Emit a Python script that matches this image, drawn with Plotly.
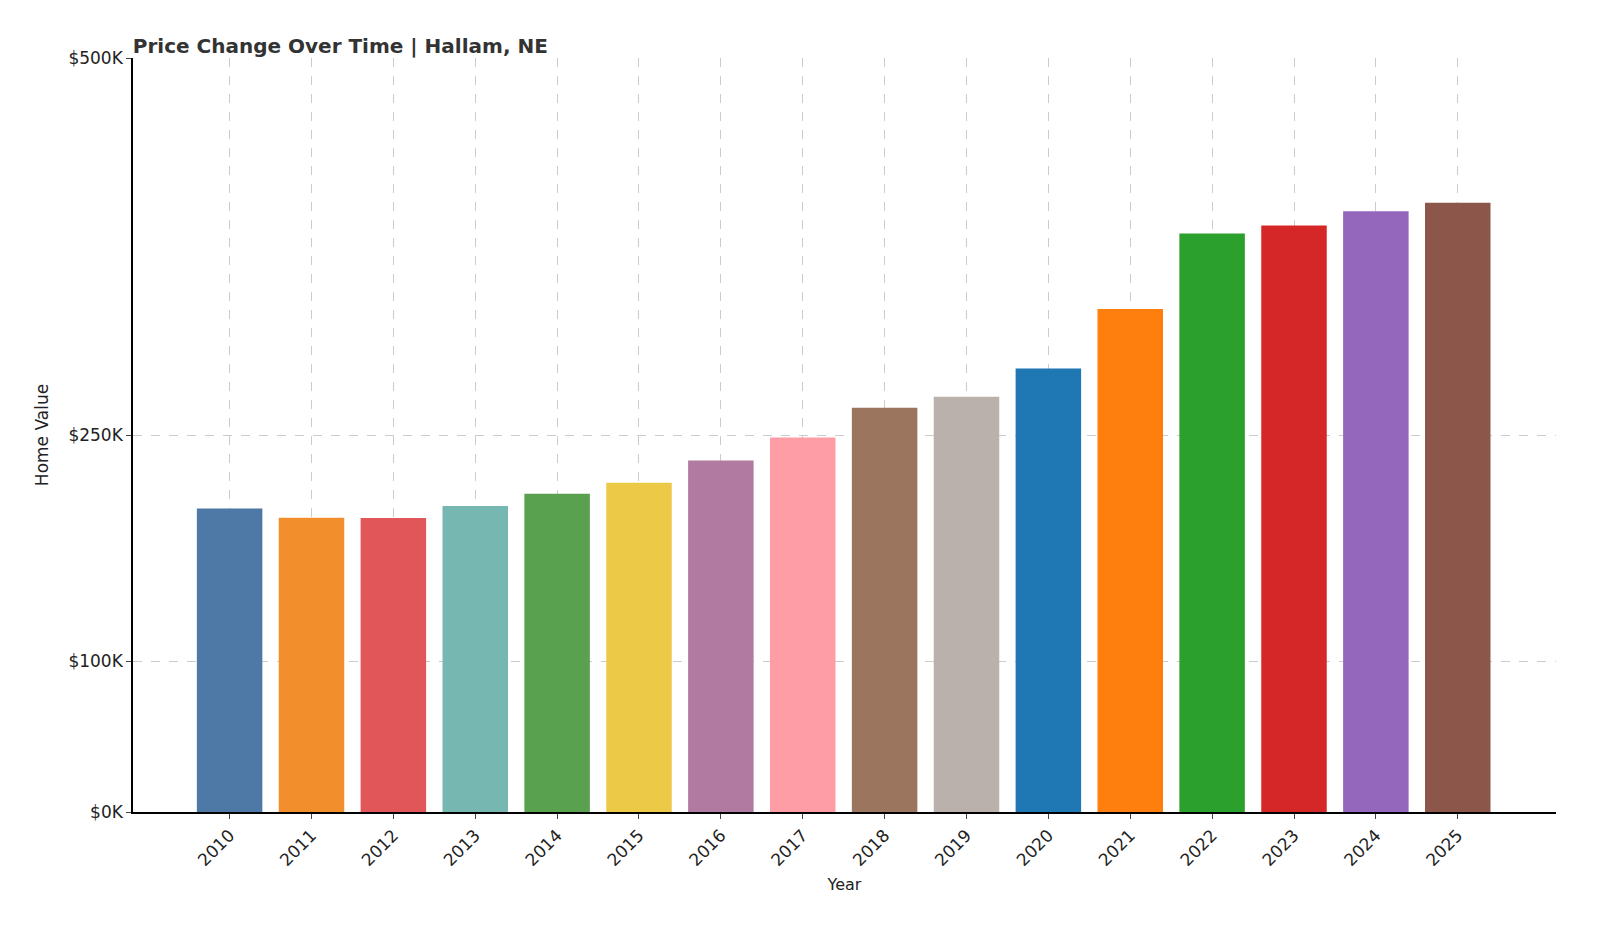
import plotly.graph_objects as go

years = [str(y) for y in range(2010, 2026)]
values = [201316, 195184, 195042, 202955, 211038, 218347, 233020, 248275,
          268052, 275359, 294177, 333537, 383558, 388873, 398419, 404057]
changes = ["", "-3.05%", "-0.07%", "+4.06%", "+3.98%", "+3.46%", "+6.72%", "+6.55%",
           "+7.97%", "+2.73%", "+6.83%", "+13.38%", "+15.00%", "+1.39%", "+2.45%", "+1.42%"]
colors = ["#4e79a7", "#f28e2b", "#e15759", "#76b7b2", "#59a14f", "#edc948", "#b07aa1", "#ff9da7",
          "#9c755f", "#bab0ac", "#1f77b4", "#ff7f0e", "#2ca02c", "#d62728", "#9467bd", "#8c564b"]
tick_vals = [0, 100000, 250000, 500000]
tick_text = ["$0K", "$100K", "$250K", "$500K"]

fig = go.Figure(go.Bar(x=years, y=values, marker=dict(color=colors, line_width=0),
                       hoverinfo="skip"))

for yr, v, c in zip(years, values, changes):
    txt = f"${v:,}" + (f"<br>({c})" if c else "")
    fig.add_annotation(x=yr, y=v, text=txt, textangle=-90, showarrow=False,
                       yanchor="bottom", xanchor="center", yshift=4,
                       font=dict(size=11, color="#333333"), align="left")

grid = dict(showgrid=True, gridcolor="#cccccc", griddash="dash", gridwidth=1)
fig.update_layout(
    width=1600, height=933,
    plot_bgcolor="white", paper_bgcolor="white",
    font=dict(family="DejaVu Sans", color="#222222"),
    title=dict(text="<b>Price Change Over Time | Hallam, NE</b>", x=0.078, xanchor="left",
               y=0.967, font=dict(size=20, color="#333333")),
    margin=dict(l=125, r=52, t=50, b=129),
    bargap=0.2, showlegend=False,
    xaxis=dict(title=dict(text="Year", font=dict(size=16), standoff=10),
               range=[-1.18, 16.2], tickangle=-45, tickfont=dict(size=17),
               showline=True, linecolor="black", linewidth=1.5, ticks="outside",
               **grid),
    yaxis=dict(title=dict(text="Home Value", font=dict(size=17)),
               range=[0, 500000], tickvals=tick_vals, ticktext=tick_text,
               tickfont=dict(size=17), showline=True, linecolor="black", linewidth=1.5,
               ticks="outside", zeroline=False, **grid),
)

fig.write_html("out.html")
